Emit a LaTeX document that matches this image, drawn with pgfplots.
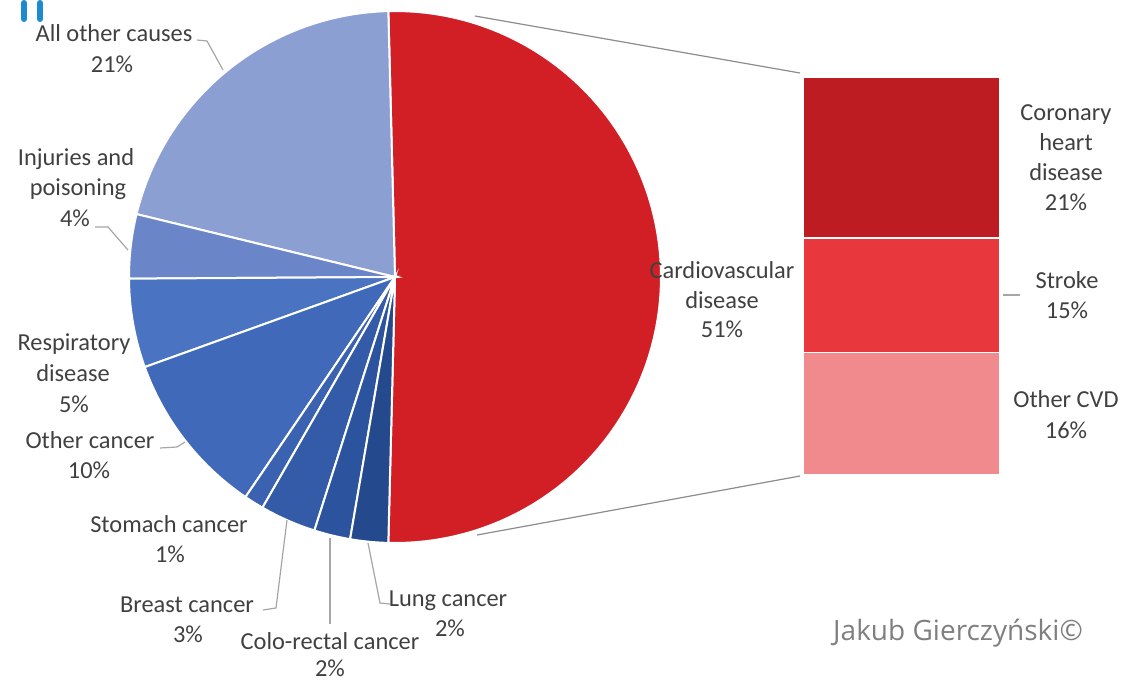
\documentclass[border=0pt]{standalone}
\usepackage{pgfplots}
\pgfplotsset{compat=1.18}
\usepackage{fontspec}
\setmainfont{Carlito}
\newfontfamily\wmfont{Open Sans}
\definecolor{cvd}{HTML}{D21F26}
\definecolor{allother}{HTML}{8B9FD3}
\definecolor{injur}{HTML}{6B86C8}
\definecolor{resp}{HTML}{4A73C2}
\definecolor{othcan}{HTML}{4169BA}
\definecolor{stom}{HTML}{3A62B0}
\definecolor{breast}{HTML}{335BA7}
\definecolor{colo}{HTML}{2C539D}
\definecolor{lung}{HTML}{244A8D}
\definecolor{chd}{HTML}{BE1C23}
\definecolor{stroke}{HTML}{E9383D}
\definecolor{othcvd}{HTML}{F08A8C}
\definecolor{labgray}{HTML}{404040}
\definecolor{leader}{HTML}{A6A6A6}
\definecolor{conn}{HTML}{8C8C8C}
\definecolor{wm}{HTML}{7F7F7F}
\definecolor{logo}{HTML}{1E8ACF}

% pie geometry (pixel units)
\def\cx{395}\def\cy{277}\def\R{266}
\def\startang{91.44} % CVD (50.8%) is centred on the right: 50.8*1.8

% #1 cumulative share before the slice, #2 share (%), #3 colour
\newcommand{\pieslice}[3]{%
  \pgfmathsetmacro\angA{\startang+3.6*(#1)}%
  \pgfmathsetmacro\angB{\startang+3.6*(#1+#2)}%
  \addplot[draw=white, line width=1pt, fill=#3, domain=\angA:\angB, samples=90, variable=\t]
    ({\cx+\R*cos(\t)},{\cy-\R*sin(\t)}) -- (axis cs:\cx,\cy) -- cycle;
}
\newcommand{\lab}[3]{\node[anchor=base, inner sep=0pt, text=labgray, font=\fontsize{12.2pt}{15pt}\selectfont] at (axis cs:#1,#2) {#3};}

\begin{document}
\begin{tikzpicture}
\begin{axis}[at={(0,0)}, anchor=south west, x=0.5pt, y=0.5pt,
  xmin=0, xmax=1125, ymin=0, ymax=681, y dir=reverse,
  hide axis, clip=false, enlargelimits=false]
\path (axis cs:0,0) rectangle (axis cs:1125,681);
% slices: cumulative start, share
\pieslice{-50.8}{50.8}{cvd}     % Cardiovascular disease 51%
\pieslice{0}{20.8}{allother}    % All other causes 21%
\pieslice{20.8}{3.9}{injur}     % Injuries and poisoning 4%
\pieslice{24.7}{5.4}{resp}      % Respiratory disease 5%
\pieslice{30.1}{10.0}{othcan}   % Other cancer 10%
\pieslice{40.1}{1.2}{stom}      % Stomach cancer 1%
\pieslice{41.3}{3.4}{breast}    % Breast cancer 3%
\pieslice{44.7}{2.2}{colo}      % Colo-rectal cancer 2%
\pieslice{46.9}{2.3}{lung}      % Lung cancer 2%

% connector lines to the bar
\draw[conn, line width=0.6pt] (axis cs:475,16) -- (axis cs:800,73);
\draw[conn, line width=0.6pt] (axis cs:477,535) -- (axis cs:800,476);

% leader lines
\begin{scope}[leader, line width=0.6pt]
\draw (axis cs:197,40) -- (axis cs:207,41) -- (axis cs:223,70);
\draw (axis cs:95,227) -- (axis cs:108,227) -- (axis cs:128,250);
\draw (axis cs:160,448) -- (axis cs:177,447) -- (axis cs:185,442);
\draw (axis cs:263,610) -- (axis cs:276,608) -- (axis cs:287,520);
\draw (axis cs:330,538) -- (axis cs:330,624);
\draw (axis cs:368,543) -- (axis cs:380,603) -- (axis cs:390,604);
\draw (axis cs:1003,295) -- (axis cs:1020,295);
\end{scope}

% labels
\lab{114}{41}{All other causes}
\lab{112}{72}{21\%}
\lab{76}{165}{Injuries and}
\lab{78}{195}{poisoning}
\lab{75}{226}{4\%}
\lab{74}{350}{Respiratory}
\lab{73}{381}{disease}
\lab{74}{412}{5\%}
\lab{90}{448}{Other cancer}
\lab{89}{478}{10\%}
\lab{169}{532}{Stomach cancer}
\lab{170}{562}{1\%}
\lab{187}{612}{Breast cancer}
\lab{188}{642}{3\%}
\lab{330}{649}{Colo-rectal cancer}
\lab{330}{676}{2\%}
\lab{448}{606}{Lung cancer}
\lab{450}{636}{2\%}
\lab{722}{278}{Cardiovascular}
\lab{722}{308}{disease}
\lab{722}{337}{51\%}
\lab{1066}{120}{Coronary}
\lab{1066}{150}{heart}
\lab{1066}{180}{disease}
\lab{1066}{210}{21\%}
\lab{1067}{288}{Stroke}
\lab{1067}{318}{15\%}
\lab{1066}{407}{Other CVD}
\lab{1066}{438}{16\%}
\node[anchor=base, inner sep=0pt, text=wm, font=\wmfont\fontsize{14pt}{17pt}\selectfont] at (axis cs:958,640) {Jakub Gierczyński©};

% logo fragment at top-left
\draw[logo, line width=3pt, line cap=round] (axis cs:24,3) -- (axis cs:24,19);
\draw[logo, line width=3pt, line cap=round] (axis cs:40,3) -- (axis cs:40,19);

\coordinate (barSW) at (axis cs:803,475);
\end{axis}

\begin{axis}[at={(barSW)}, anchor=south west, width=98.5pt, height=199pt,
  scale only axis, ybar stacked, bar width=98.5pt,
  xmin=-0.5, xmax=0.5, ymin=0, ymax=52, hide axis, enlargelimits=false, clip=false]
\addplot[fill=othcvd, draw=white, line width=0.8pt] coordinates {(0,16)}; % Other CVD
\addplot[fill=stroke, draw=white, line width=0.8pt] coordinates {(0,15)}; % Stroke
\addplot[fill=chd, draw=white, line width=0.8pt] coordinates {(0,21)};    % Coronary heart disease
\end{axis}
\end{tikzpicture}
\end{document}
